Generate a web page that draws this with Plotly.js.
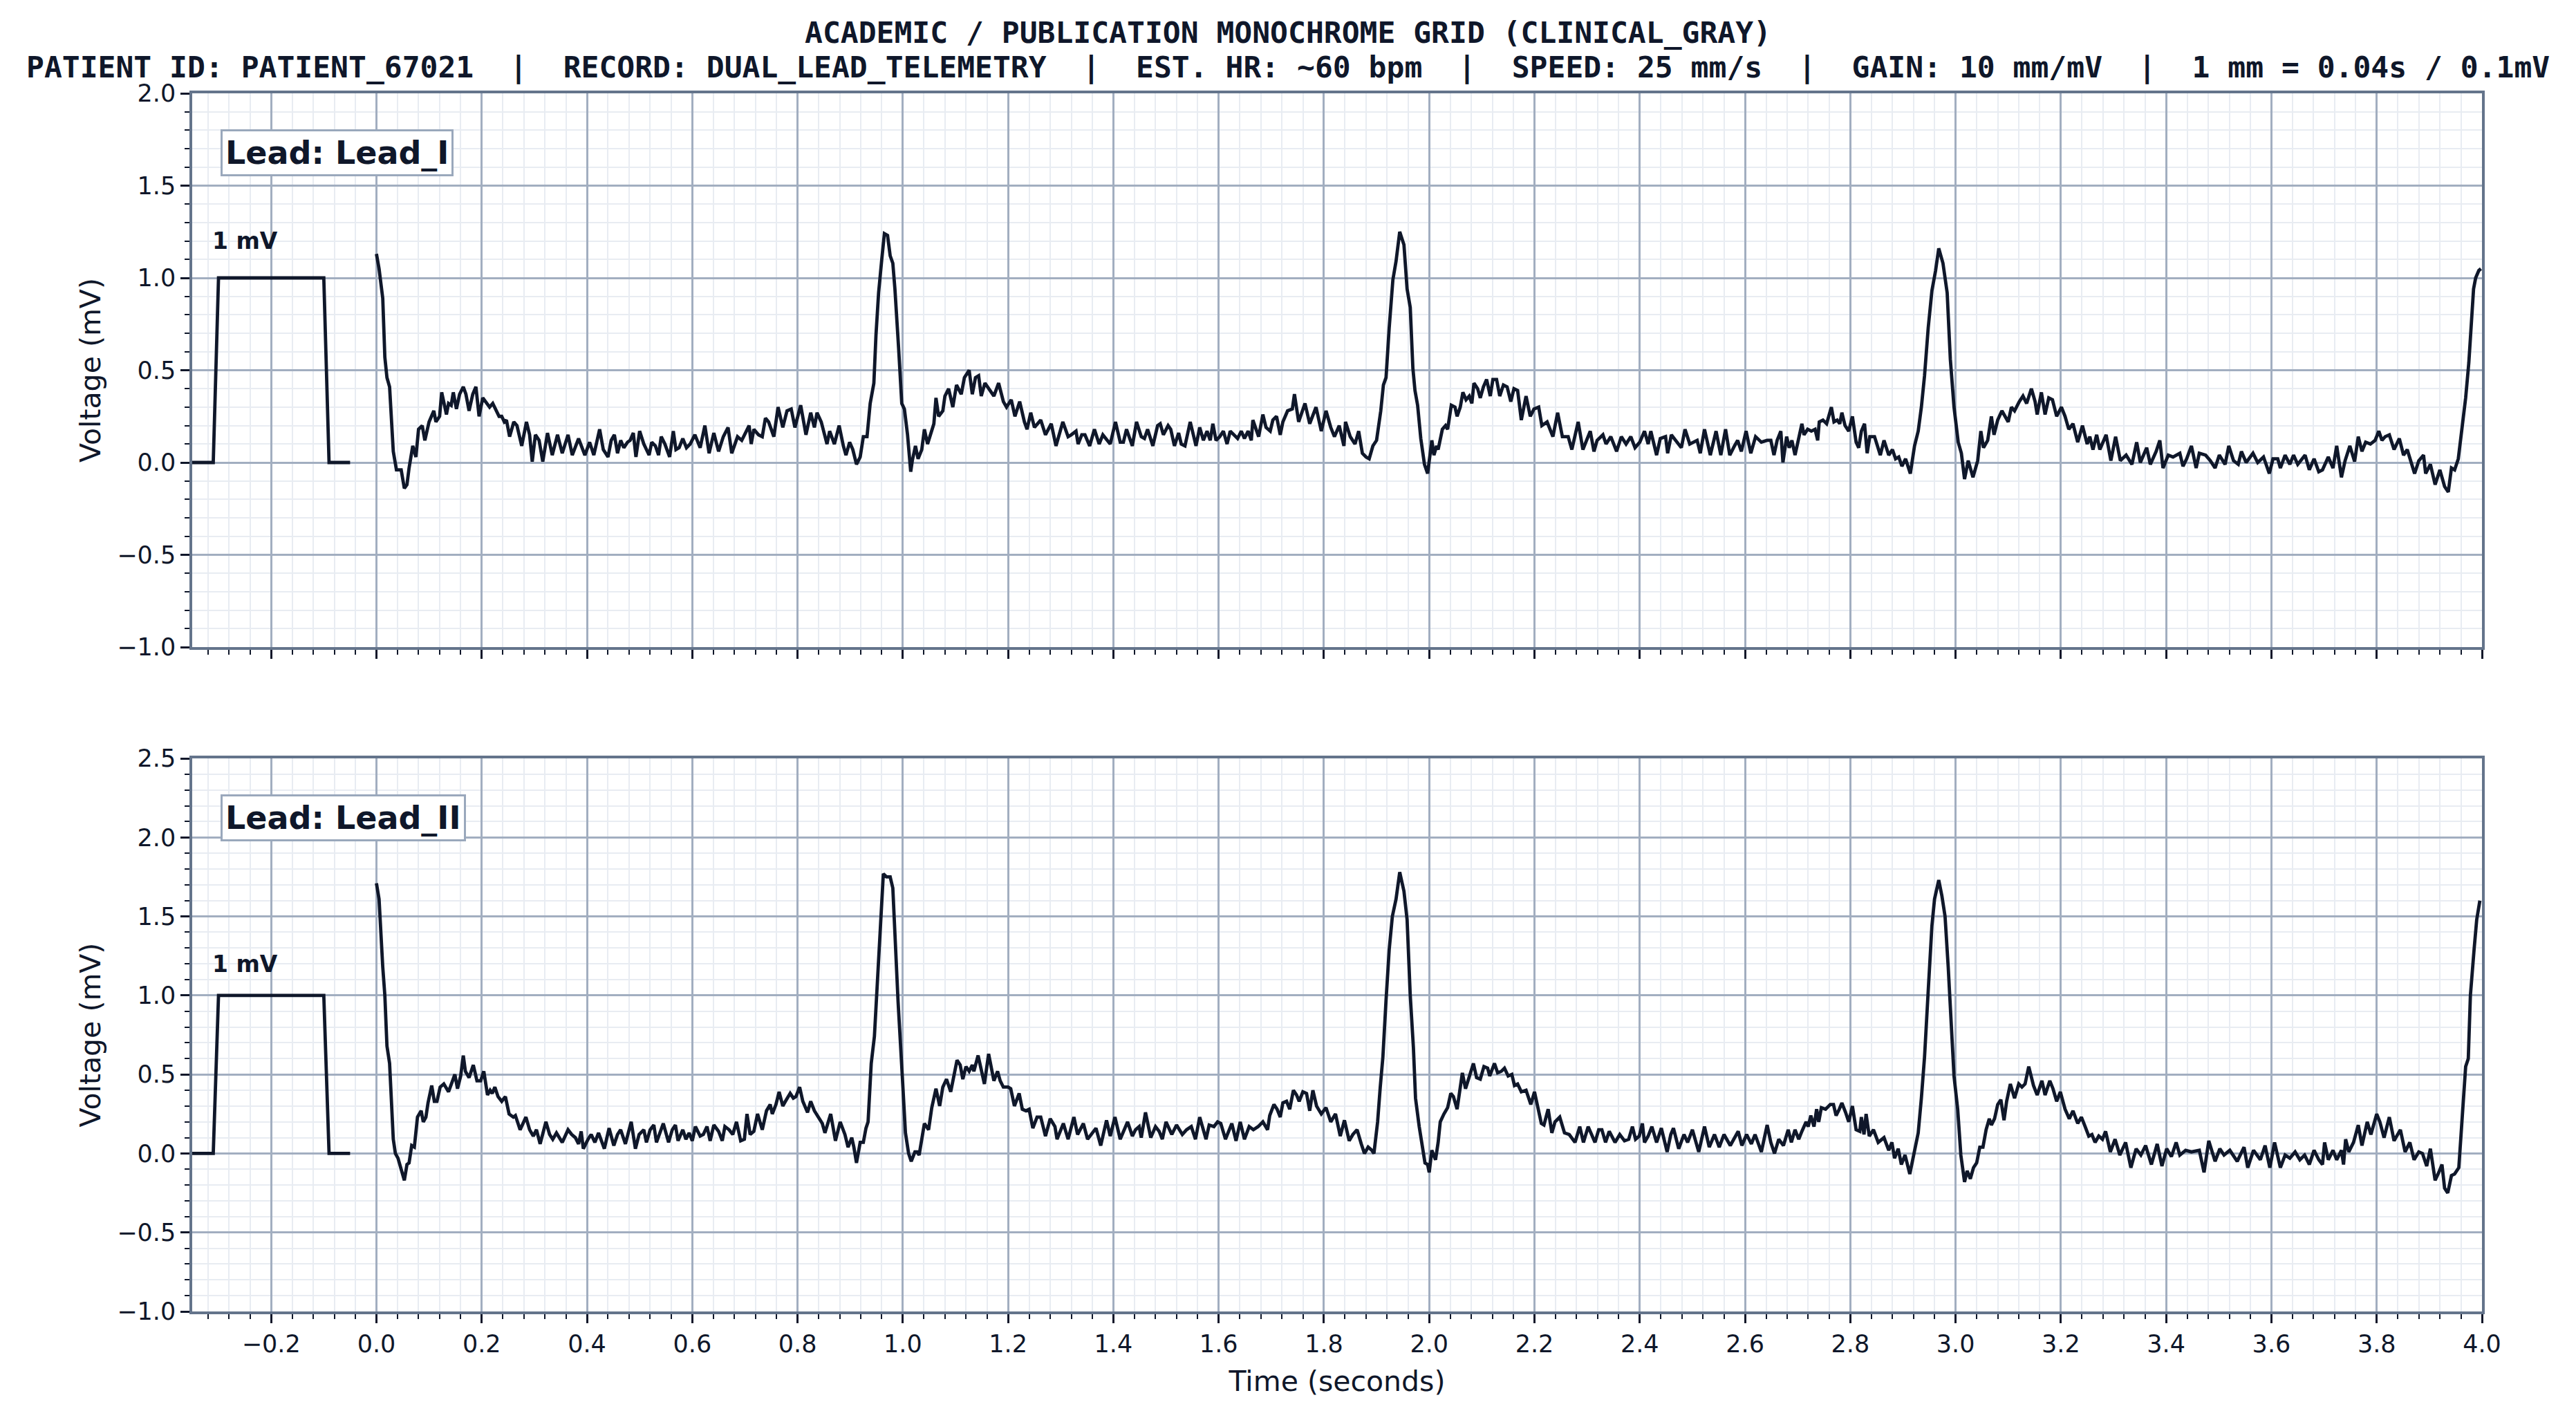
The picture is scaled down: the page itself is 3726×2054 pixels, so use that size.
<!DOCTYPE html>
<html>
<head>
<meta charset="utf-8">
<script src="https://cdn.plot.ly/plotly-3.0.1.min.js"></script>
<style>
  html, body { margin: 0; padding: 0; background: #ffffff; }
  #plot { width: 3726px; height: 2054px; }
</style>
</head>
<body>
<div id="plot"></div>
<script>
// chart text
const titleLine1 = "ACADEMIC / PUBLICATION MONOCHROME GRID (CLINICAL_GRAY)";
const titleLine2 = ["PATIENT ID: PATIENT_67021", "RECORD: DUAL_LEAD_TELEMETRY", "EST. HR: ~60 bpm",
                    "SPEED: 25 mm/s", "GAIN: 10 mm/mV", "1 mm = 0.04s / 0.1mV"];
const leadNames = ["Lead_I", "Lead_II"];

// 1 mV calibration pulse (time s, mV)
const calTime = [-0.35, -0.31, -0.30, -0.10, -0.09, -0.05];
const calVolt = [0, 0, 1, 1, 0, 0];

// Lead I samples [time s, mV]
const leadI = [
  [0,1.13],[.005,1.05],[.012,.89],[.016,.57],[.02,.46],[.025,.41],[.032,.06],[.038,-.04],[.047,-.04],[.053,-.14],
  [.058,-.12],[.062,-.03],[.069,.09],[.075,.03],[.08,.18],[.087,.20],[.092,.12],[.1,.22],[.109,.28],[.113,.22],
  [.12,.25],[.124,.38],[.133,.26],[.137,.32],[.142,.31],[.146,.38],[.152,.29],[.158,.37],[.165,.41],[.17,.37],
  [.176,.28],[.183,.37],[.189,.41],[.195,.25],[.202,.35],[.209,.32],[.215,.30],[.221,.32],[.227,.28],[.233,.25],
  [.238,.25],[.243,.22],[.247,.23],[.253,.14],[.261,.22],[.267,.20],[.276,.09],[.285,.22],[.291,.15],[.296,.005],
  [.302,.15],[.309,.12],[.316,.005],[.325,.16],[.334,.04],[.344,.15],[.353,.05],[.364,.15],[.372,.04],[.384,.13],
  [.396,.04],[.405,.11],[.413,.04],[.424,.18],[.431,.07],[.44,.03],[.446,.12],[.452,.15],[.458,.05],[.464,.12],
  [.47,.08],[.477,.11],[.482,.12],[.488,.16],[.493,.03],[.5,.17],[.508,.10],[.518,.04],[.523,.11],[.53,.09],
  [.536,.04],[.541,.14],[.548,.10],[.557,.03],[.564,.17],[.569,.07],[.575,.08],[.582,.13],[.589,.08],[.596,.10],
  [.605,.15],[.615,.08],[.624,.20],[.632,.05],[.641,.16],[.65,.06],[.659,.14],[.668,.19],[.675,.05],[.686,.14],
  [.694,.12],[.701,.16],[.708,.20],[.712,.10],[.717,.18],[.726,.15],[.733,.14],[.739,.24],[.745,.22],[.755,.14],
  [.763,.30],[.772,.19],[.78,.28],[.788,.29],[.795,.19],[.806,.31],[.816,.15],[.825,.27],[.832,.19],[.837,.27],
  [.845,.22],[.856,.10],[.861,.17],[.87,.10],[.879,.20],[.887,.09],[.892,.04],[.899,.11],[.905,.07],[.912,-.01],
  [.919,.03],[.925,.14],[.932,.14],[.938,.32],[.945,.43],[.949,.69],[.954,.92],[.96,1.10],[.965,1.24],[.971,1.23],
  [.976,1.12],[.981,1.08],[.985,.94],[.992,.62],[.998,.32],[1.003,.29],[1.009,.15],[1.015,-.05],[1.018,.01],[1.024,.09],
  [1.029,.02],[1.036,.07],[1.041,.18],[1.047,.10],[1.054,.17],[1.059,.21],[1.063,.35],[1.068,.25],[1.076,.28],[1.08,.36],
  [1.087,.40],[1.095,.30],[1.102,.42],[1.111,.37],[1.117,.46],[1.126,.50],[1.132,.37],[1.138,.46],[1.144,.47],[1.149,.36],
  [1.156,.43],[1.164,.40],[1.173,.36],[1.182,.43],[1.191,.33],[1.197,.30],[1.206,.34],[1.213,.25],[1.222,.33],[1.231,.22],
  [1.236,.18],[1.243,.27],[1.25,.19],[1.262,.23],[1.271,.15],[1.282,.21],[1.291,.09],[1.304,.22],
  [1.314,.14],[1.32,.15],[1.329,.17],[1.333,.10],[1.34,.15],[1.346,.15],[1.355,.09],[1.364,.18],[1.373,.10],[1.38,.15],
  [1.394,.10],[1.404,.22],[1.413,.11],[1.419,.11],[1.425,.18],[1.436,.09],[1.444,.22],[1.453,.14],[1.459,.13],[1.465,.18],
  [1.475,.09],[1.484,.20],[1.489,.21],[1.495,.15],[1.504,.20],[1.509,.18],[1.516,.09],[1.524,.16],[1.529,.10],[1.536,.09],
  [1.546,.22],[1.557,.09],[1.564,.19],[1.571,.12],[1.578,.17],[1.584,.12],[1.589,.21],[1.595,.12],[1.602,.14],[1.609,.17],
  [1.616,.10],[1.622,.17],[1.629,.15],[1.636,.13],[1.643,.17],[1.649,.13],[1.656,.17],[1.662,.12],[1.665,.23],[1.671,.18],
  [1.676,.14],[1.684,.26],[1.69,.19],[1.698,.17],[1.703,.23],[1.71,.25],[1.717,.15],[1.722,.22],[1.731,.28],[1.74,.29],
  [1.744,.37],[1.752,.22],[1.764,.32],[1.773,.21],[1.785,.30],[1.795,.17],[1.804,.28],[1.813,.19],[1.82,.14],[1.829,.20],
  [1.838,.09],[1.841,.22],[1.85,.14],[1.859,.10],[1.866,.17],[1.873,.05],[1.88,.03],[1.886,.02],[1.893,.09],[1.9,.12],
  [1.908,.28],[1.913,.42],[1.918,.46],[1.924,.73],[1.931,.99],[1.937,1.09],[1.944,1.25],[1.952,1.18],[1.958,.94],[1.964,.84],
  [1.969,.51],[1.973,.39],[1.978,.31],[1.984,.13],[1.991,-.01],[1.997,-.06],[2.005,.12],[2.009,.04],[2.014,.09],[2.017,.07],
  [2.025,.18],[2.031,.20],[2.035,.18],[2.042,.31],[2.049,.30],[2.053,.25],[2.059,.30],[2.064,.38],[2.07,.34],[2.076,.36],
  [2.081,.32],[2.085,.43],[2.092,.40],[2.097,.35],[2.103,.41],[2.109,.45],[2.116,.36],[2.121,.45],[2.128,.45],[2.134,.36],
  [2.141,.42],[2.148,.41],[2.155,.33],[2.161,.40],[2.168,.39],[2.175,.23],[2.184,.36],[2.192,.25],[2.199,.29],[2.208,.30],
  [2.214,.20],[2.224,.22],[2.235,.14],[2.244,.27],[2.253,.14],[2.264,.14],[2.271,.07],[2.283,.22],[2.292,.07],[2.299,.12],
  [2.306,.17],[2.313,.06],[2.319,.12],[2.33,.15],[2.336,.10],[2.345,.14],[2.356,.06],[2.365,.14],[2.374,.10],[2.383,.14],
  [2.391,.08],[2.4,.11],[2.409,.17],[2.416,.10],[2.421,.17],[2.432,.04],[2.439,.13],[2.449,.14],[2.453,.05],[2.46,.15],
  [2.469,.12],[2.479,.08],[2.486,.18],[2.495,.10],[2.509,.12],[2.515,.05],[2.523,.18],[2.534,.04],[2.545,.17],[2.554,.04],
  [2.563,.18],[2.571,.04],[2.58,.09],[2.586,.12],[2.593,.06],[2.602,.17],[2.611,.05],[2.62,.14],[2.631,.11],
  [2.642,.12],[2.649,.12],[2.655,.04],[2.661,.12],[2.668,.17],[2.672,0],[2.679,.14],[2.684,.08],[2.689,.12],[2.695,.04],
  [2.702,.14],[2.708,.21],[2.712,.15],[2.719,.18],[2.726,.17],[2.733,.18],[2.738,.12],[2.741,.22],[2.748,.23],[2.755,.21],
  [2.764,.30],[2.769,.22],[2.775,.23],[2.78,.21],[2.784,.27],[2.79,.20],[2.797,.17],[2.804,.25],[2.811,.11],[2.816,.08],
  [2.821,.17],[2.827,.21],[2.832,.05],[2.837,.14],[2.846,.14],[2.857,.04],[2.864,.12],[2.873,.04],[2.88,.07],[2.886,.02],
  [2.892,.03],[2.898,-.02],[2.905,.02],[2.914,-.06],[2.922,.09],[2.929,.17],[2.935,.30],[2.941,.47],[2.948,.73],[2.955,.93],
  [2.962,1.04],[2.968,1.16],[2.976,1.08],[2.984,.92],[2.99,.56],[2.997,.30],[3.005,.11],[3.011,.05],[3.017,-.09],[3.024,.01],
  [3.033,-.08],[3.042,.01],[3.048,.17],[3.053,.08],[3.061,.12],[3.068,.25],[3.073,.15],[3.08,.23],[3.088,.28],[3.1,.22],
  [3.106,.30],[3.112,.28],[3.121,.33],[3.128,.36],[3.135,.32],[3.144,.40],[3.151,.33],[3.155,.26],[3.163,.38],[3.17,.26],
  [3.177,.35],[3.184,.34],[3.192,.25],[3.201,.30],[3.208,.25],[3.215,.18],[3.223,.21],[3.232,.11],[3.241,.20],[3.25,.10],
  [3.255,.14],[3.261,.07],[3.268,.15],[3.274,.07],[3.286,.15],[3.295,.01],[3.304,.14],[3.313,.01],[3.324,.04],[3.335,-.01],
  [3.344,.11],[3.351,0],[3.363,.08],[3.37,-.01],[3.381,.06],[3.388,.12],[3.394,-.03],[3.404,.04],[3.413,.03],[3.426,.05],
  [3.432,-.02],[3.439,.02],[3.448,.09],[3.457,-.03],[3.463,.05],[3.475,.04],[3.484,.01],[3.493,-.03],[3.501,.04],[3.512,-.01],
  [3.519,.09],[3.528,.01],[3.537,-.01],[3.543,.06],[3.552,0],[3.565,.05],[3.574,0],[3.585,.03],[3.596,-.06],[3.603,.02],
  [3.612,.02],[3.617,-.03],[3.626,.04],[3.635,-.01],[3.642,.04],[3.65,-.01],[3.664,.04],[3.672,-.04],[3.681,.02],[3.69,-.05],
  [3.697,-.04],[3.708,.03],[3.717,-.03],[3.724,.09],[3.733,-.08],[3.74,.01],[3.749,.09],[3.758,.005],[3.765,.14],[3.772,.06],
  [3.779,.11],[3.788,.10],[3.797,.12],[3.804,.17],[3.81,.12],[3.816,.14],[3.824,.15],[3.833,.07],[3.843,.13],[3.851,.04],
  [3.858,.07],[3.865,.005],[3.872,-.06],[3.88,.01],[3.889,.04],[3.893,-.06],[3.902,-.01],[3.911,-.12],[3.92,-.04],[3.929,-.13],
  [3.936,-.16],[3.942,-.03],[3.948,-.04],[3.955,.02],[3.962,.17],[3.969,.35],[3.975,.54],[3.98,.73],[3.984,.94],[3.988,1.00],
  [3.994,1.04],[3.998,1.05]
];

// Lead II samples [time s, mV]
const leadII = [
  [0,1.71],[.005,1.61],[.012,1.18],[.016,1.00],[.02,.68],[.025,.57],[.032,.09],[.036,0],[.041,-.03],[.047,-.10],
  [.053,-.17],[.058,-.07],[.062,-.06],[.067,.05],[.072,.04],[.078,.23],[.085,.27],[.089,.20],[.094,.23],[.098,.32],
  [.105,.43],[.11,.33],[.115,.33],[.121,.42],[.128,.44],[.137,.39],[.142,.44],[.149,.50],[.154,.41],[.16,.49],
  [.165,.62],[.169,.52],[.176,.48],[.184,.56],[.191,.46],[.198,.46],[.204,.52],[.211,.37],[.216,.40],[.22,.38],
  [.225,.42],[.231,.36],[.238,.33],[.245,.36],[.252,.25],[.26,.23],[.264,.24],[.273,.15],[.284,.23],[.291,.15],
  [.298,.11],[.304,.15],[.311,.06],[.322,.20],[.329,.12],[.335,.09],[.342,.13],[.353,.07],[.364,.15],[.371,.12],
  [.378,.10],[.384,.06],[.389,.14],[.393,.03],[.402,.09],[.408,.12],[.415,.07],[.422,.13],[.433,.03],[.442,.16],
  [.451,.05],[.458,.12],[.464,.15],[.473,.06],[.484,.20],[.492,.03],[.499,.12],[.508,.15],[.513,.07],[.52,.15],
  [.527,.18],[.532,.07],[.545,.19],[.555,.07],[.562,.15],[.568,.18],[.573,.08],[.582,.15],[.588,.09],[.594,.13],
  [.6,.08],[.606,.17],[.615,.11],[.621,.12],[.628,.17],[.634,.08],[.641,.18],[.65,.14],[.657,.08],[.662,.17],
  [.67,.15],[.677,.12],[.684,.20],[.692,.08],[.699,.09],[.704,.25],[.71,.12],[.717,.14],[.724,.25],[.733,.15],
  [.741,.27],[.748,.31],[.752,.25],[.759,.31],[.765,.39],[.772,.30],[.777,.33],[.786,.38],[.792,.35],[.797,.36],
  [.804,.42],[.81,.33],[.819,.26],[.825,.33],[.832,.27],[.839,.23],[.847,.19],[.852,.13],[.863,.25],[.872,.08],
  [.881,.20],[.89,.12],[.896,.04],[.903,.10],[.907,.04],[.912,-.06],[.919,.07],[.925,.07],[.93,.16],[.934,.20],
  [.94,.57],[.946,.74],[.952,1.08],[.958,1.41],[.963,1.77],[.969,1.75],[.976,1.75],[.981,1.68],[.985,1.37],[.991,.96],
  [.999,.49],[1.005,.13],[1.011,0],[1.016,-.05],[1.023,.01],[1.027,.01],[1.031,-.01],[1.036,.09],[1.041,.19],[1.049,.15],
  [1.055,.29],[1.063,.41],[1.07,.30],[1.076,.42],[1.083,.47],[1.091,.39],[1.098,.51],[1.103,.59],[1.109,.56],[1.114,.47],
  [1.12,.55],[1.126,.52],[1.132,.56],[1.135,.52],[1.143,.62],[1.149,.53],[1.155,.44],[1.163,.63],[1.169,.53],[1.173,.46],
  [1.18,.52],[1.185,.46],[1.191,.42],[1.2,.42],[1.205,.41],[1.212,.30],[1.221,.38],[1.227,.28],[1.234,.27],[1.24,.28],
  [1.247,.16],[1.255,.23],[1.262,.23],[1.271,.11],[1.28,.22],[1.289,.17],[1.293,.09],[1.305,.19],
  [1.314,.09],[1.325,.23],[1.332,.12],[1.343,.19],[1.351,.09],[1.36,.13],[1.367,.16],[1.376,.05],[1.387,.21],[1.394,.11],
  [1.403,.23],[1.413,.09],[1.427,.20],[1.436,.11],[1.442,.15],[1.449,.17],[1.453,.10],[1.461,.26],[1.471,.10],[1.48,.17],
  [1.487,.14],[1.493,.09],[1.5,.20],[1.511,.12],[1.52,.18],[1.531,.12],[1.539,.15],[1.548,.17],[1.556,.09],[1.564,.23],
  [1.576,.09],[1.582,.18],[1.591,.17],[1.598,.20],[1.604,.19],[1.613,.09],[1.625,.19],[1.633,.08],[1.641,.20],[1.649,.09],
  [1.658,.17],[1.666,.15],[1.675,.17],[1.684,.20],[1.693,.15],[1.697,.24],[1.705,.31],[1.711,.28],[1.717,.23],[1.722,.32],
  [1.729,.33],[1.735,.28],[1.742,.40],[1.748,.37],[1.753,.33],[1.76,.39],[1.767,.38],[1.773,.27],[1.779,.40],[1.786,.30],
  [1.795,.25],[1.804,.29],[1.813,.20],[1.822,.25],[1.831,.11],[1.839,.21],[1.848,.08],[1.855,.12],[1.863,.15],[1.871,.06],
  [1.877,0],[1.884,.04],[1.891,.02],[1.895,0],[1.902,.20],[1.907,.42],[1.912,.61],[1.918,.97],[1.924,1.29],[1.93,1.50],
  [1.937,1.61],[1.944,1.78],[1.952,1.66],[1.958,1.48],[1.964,1.00],[1.97,.67],[1.974,.35],[1.981,.17],[1.988,0],[1.992,-.06],
  [1.997,-.07],[2.0,-.12],[2.005,.02],[2.012,-.04],[2.017,.07],[2.021,.20],[2.028,.25],[2.035,.29],[2.041,.38],[2.046,.36],
  [2.053,.28],[2.058,.38],[2.063,.51],[2.069,.41],[2.076,.48],[2.084,.57],[2.09,.48],[2.097,.47],[2.104,.55],[2.111,.54],
  [2.115,.49],[2.124,.57],[2.13,.51],[2.137,.52],[2.143,.54],[2.15,.49],[2.157,.50],[2.162,.43],[2.168,.44],[2.175,.39],
  [2.184,.40],[2.193,.31],[2.2,.39],[2.206,.29],[2.213,.19],[2.218,.18],[2.226,.28],[2.233,.13],[2.239,.20],[2.248,.23],
  [2.257,.13],[2.266,.12],[2.277,.07],[2.286,.17],[2.293,.07],[2.302,.17],[2.309,.11],[2.315,.07],[2.322,.15],[2.328,.15],
  [2.335,.07],[2.342,.14],[2.353,.07],[2.362,.12],[2.371,.08],[2.379,.09],[2.386,.17],[2.392,.09],[2.399,.11],[2.405,.19],
  [2.409,.07],[2.416,.11],[2.423,.17],[2.432,.07],[2.441,.16],[2.452,.01],[2.459,.12],[2.464,.16],[2.474,.03],[2.484,.12],
  [2.491,.07],[2.5,.15],[2.512,.01],[2.523,.17],[2.532,.04],[2.542,.12],[2.551,.04],[2.56,.12],[2.572,.05],[2.587,.14],
  [2.594,.05],[2.603,.12],[2.612,.06],[2.619,.12],[2.631,.01],
  [2.642,.18],[2.649,.07],[2.656,0],[2.664,.09],[2.673,.05],[2.682,.15],[2.688,.07],[2.695,.15],[2.702,.09],[2.708,.14],
  [2.716,.20],[2.72,.17],[2.725,.24],[2.731,.17],[2.736,.28],[2.74,.20],[2.745,.29],[2.753,.28],[2.762,.31],[2.768,.31],
  [2.773,.24],[2.779,.28],[2.784,.32],[2.791,.26],[2.797,.20],[2.804,.30],[2.811,.15],[2.818,.14],[2.821,.23],[2.826,.12],
  [2.83,.25],[2.836,.11],[2.844,.15],[2.853,.07],[2.864,.10],[2.873,.02],[2.879,.07],[2.884,-.03],[2.891,.03],[2.897,-.07],
  [2.904,-.01],[2.913,-.13],[2.922,.03],[2.929,.13],[2.935,.35],[2.941,.61],[2.948,1.03],[2.955,1.44],[2.96,1.61],[2.968,1.73],
  [2.974,1.63],[2.98,1.50],[2.986,1.18],[2.991,.83],[2.997,.49],[3.004,.28],[3.01,-.01],[3.017,-.18],[3.022,-.11],[3.028,-.16],
  [3.034,-.09],[3.04,-.06],[3.046,.04],[3.052,.04],[3.058,.15],[3.064,.22],[3.068,.18],[3.074,.22],[3.08,.31],[3.086,.34],
  [3.092,.21],[3.097,.33],[3.104,.44],[3.112,.35],[3.12,.44],[3.126,.42],[3.132,.44],[3.139,.55],[3.148,.43],[3.155,.37],
  [3.164,.46],[3.17,.37],[3.179,.46],[3.185,.41],[3.192,.33],[3.199,.39],[3.208,.28],[3.216,.22],[3.223,.27],[3.232,.19],
  [3.239,.23],[3.245,.18],[3.253,.11],[3.259,.12],[3.265,.07],[3.272,.11],[3.279,.09],[3.285,.14],[3.294,.01],[3.303,.09],
  [3.312,-.01],[3.323,.07],[3.333,-.09],[3.343,.03],[3.352,-.01],[3.361,.05],[3.372,-.07],[3.383,.06],[3.392,-.08],[3.401,.03],
  [3.41,-.02],[3.419,.07],[3.426,-.01],[3.437,.02],[3.448,.01],[3.463,.02],[3.472,-.12],[3.481,.08],[3.493,-.05],[3.502,.03],
  [3.51,-.01],[3.521,.02],[3.535,-.05],[3.548,.04],[3.555,-.09],[3.566,.02],[3.579,-.04],[3.588,.05],[3.597,-.09],[3.606,.07],
  [3.617,-.09],[3.626,-.01],[3.635,-.03],[3.645,.01],[3.654,-.04],[3.663,-.01],[3.672,-.07],[3.681,.02],[3.69,-.04],[3.697,-.07],
  [3.701,.07],[3.708,-.04],[3.717,.02],[3.724,-.04],[3.733,.02],[3.737,-.07],[3.741,.09],[3.747,.01],[3.756,.07],[3.765,.18],
  [3.772,.05],[3.782,.20],[3.789,.12],[3.8,.25],[3.806,.20],[3.814,.10],[3.824,.23],[3.833,.08],[3.845,.15],[3.854,.01],
  [3.863,.07],[3.871,-.04],[3.88,.01],[3.887,0],[3.895,-.08],[3.902,.03],[3.911,-.17],[3.918,-.12],[3.924,-.07],[3.929,-.22],
  [3.935,-.25],[3.942,-.14],[3.948,-.13],[3.956,-.09],[3.962,.20],[3.969,.55],[3.974,.60],[3.978,1.00],[3.985,1.29],[3.99,1.48],
  [3.996,1.60]
];

const ink = "#0f172a";
const majorGrid = "#a2aec0";
const minorGrid = "#e8ecf2";
const spine = "#64748b";

function traceLine(pts, xa, ya) {
  return {
    type: "scatter", mode: "lines",
    x: pts.map(p => p[0]), y: pts.map(p => p[1]),
    xaxis: xa, yaxis: ya,
    line: {color: ink, width: 4.8},
    hoverinfo: "skip"
  };
}

function calLine(xa, ya) {
  return {
    type: "scatter", mode: "lines",
    x: calTime, y: calVolt, xaxis: xa, yaxis: ya,
    line: {color: ink, width: 4.8},
    hoverinfo: "skip"
  };
}

function timeAxis(showLabels, domainAnchor) {
  return {
    anchor: domainAnchor,
    domain: [0, 1],
    range: [-0.35, 4.0],
    tick0: 0, dtick: 0.2,
    tickformat: ".1f",
    showticklabels: showLabels,
    ticks: "outside", ticklen: 13, tickwidth: 2.5, tickcolor: ink,
    tickfont: {family: "DejaVu Sans", size: 35, color: ink},
    showgrid: true, gridcolor: majorGrid, gridwidth: 3,
    zeroline: false,
    showline: true, linecolor: spine, linewidth: 3.5, mirror: true,
    minor: {tick0: 0, dtick: 0.04, ticks: "outside", ticklen: 7, tickwidth: 2, tickcolor: ink,
            showgrid: true, gridcolor: minorGrid, gridwidth: 1.6}
  };
}

function voltAxis(range, domain, domainAnchor) {
  return {
    anchor: domainAnchor,
    domain: domain,
    range: range,
    tick0: 0, dtick: 0.5,
    tickformat: ".1f",
    ticks: "outside", ticklen: 13, tickwidth: 2.5, tickcolor: ink,
    tickfont: {family: "DejaVu Sans", size: 35, color: ink},
    showgrid: true, gridcolor: majorGrid, gridwidth: 3,
    zeroline: false,
    showline: true, linecolor: spine, linewidth: 3.5, mirror: true,
    minor: {tick0: 0, dtick: 0.1, ticks: "outside", ticklen: 7, tickwidth: 2, tickcolor: ink,
            showgrid: true, gridcolor: minorGrid, gridwidth: 1.6},
    title: {text: "Voltage (mV)", font: {family: "DejaVu Sans", size: 41, color: ink}, standoff: 12}
  };
}

function leadBox(name, xa, ya) {
  return {
    xref: xa + " domain", yref: ya + " domain",
    x: 0.0125, y: 0.935, xanchor: "left", yanchor: "top",
    text: "<b>Lead: " + name + "</b>",
    showarrow: false,
    font: {family: "DejaVu Sans", size: 46, color: ink},
    bgcolor: "#ffffff", bordercolor: "#9aa8bc", borderwidth: 3, borderpad: 4
  };
}

function calLabel(xa, ya) {
  return {
    xref: xa, yref: ya, x: -0.315, y: 1.2,
    xanchor: "left", yanchor: "middle",
    text: "<b>1 mV</b>", showarrow: false,
    font: {family: "DejaVu Sans", size: 33, color: ink}
  };
}

const sep = "\u00a0\u00a0|\u00a0\u00a0";
const titleFont = {family: "DejaVu Sans Mono", size: 43, color: ink};

const data = [
  calLine("x", "y"), traceLine(leadI, "x", "y"),
  calLine("x2", "y2"), traceLine(leadII, "x2", "y2")
];

const xBottom = timeAxis(true, "y2");
xBottom.matches = "x";
xBottom.title = {text: "Time (seconds)", font: {family: "DejaVu Sans", size: 41, color: ink}, standoff: 22};

const layout = {
  width: 3726, height: 2054,
  paper_bgcolor: "#ffffff", plot_bgcolor: "#ffffff",
  showlegend: false,
  margin: {l: 278, r: 136, t: 135, b: 157},
  title: {
    text: "<b>" + titleLine1 + "</b>",
    font: titleFont,
    x: 0.5, xref: "container", xanchor: "center",
    y: 1 - 47 / 2054, yref: "container", yanchor: "middle"
  },
  xaxis: timeAxis(false, "y"),
  yaxis: voltAxis([-1, 2], [0.5454, 1], "x"),
  xaxis2: xBottom,
  yaxis2: voltAxis([-1, 2.5], [0, 0.454], "x2"),
  annotations: [
    {
      // second title line: record metadata
      xref: "paper", yref: "paper",
      x: (1863 - 278) / 3312, y: (1897 - 97) / 1762,
      xanchor: "center", yanchor: "middle",
      text: "<b>" + titleLine2.join(sep) + "</b>",
      showarrow: false, font: titleFont
    },
    leadBox(leadNames[0], "x", "y"), calLabel("x", "y"),
    leadBox(leadNames[1], "x2", "y2"), calLabel("x2", "y2")
  ]
};

Plotly.newPlot("plot", data, layout, {displayModeBar: false, responsive: false});
</script>
</body>
</html>
